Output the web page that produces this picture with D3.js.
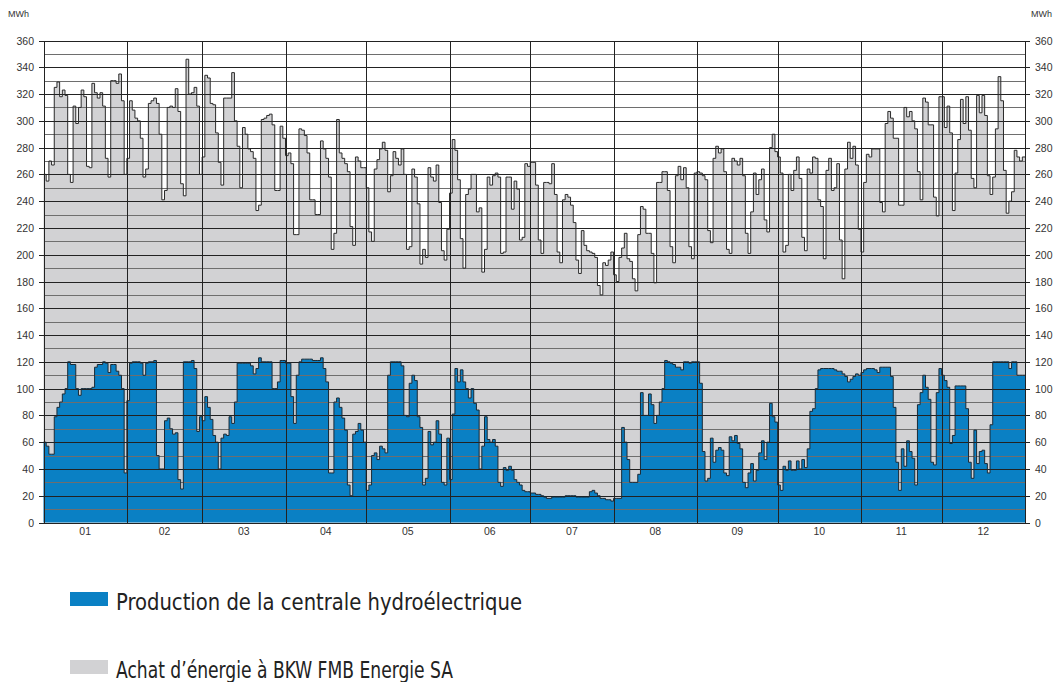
<!DOCTYPE html>
<html>
<meta charset="utf-8">
<head>
  <title>Production et achat d'énergie</title>
</head>

<style>
body {
  margin: 0;
  background: #fff;
}
text {
  font-family: "Liberation Sans", Arial, sans-serif;
  fill: #333;
}
.legend text {
  font-family: "Liberation Sans Narrow", "DejaVu Sans Condensed", "Liberation Sans", sans-serif;
  fill: #222;
}
</style>

<body>
  <svg id="chart" width="1058" height="682"></svg>

  <script src="https://cdnjs.cloudflare.com/ajax/libs/d3/7.8.5/d3.min.js"></script>

  <script>
var width = 1058, height = 682

// month labels and days per month
var months = ['01', '02', '03', '04', '05', '06', '07', '08', '09', '10', '11', '12']
var monthDays = [31, 28, 31, 30, 31, 30, 31, 31, 30, 31, 30, 31]

// total daily consumption (MWh) = production + achat
var total = [
  260, 255, 270, 267, 325, 329, 318, 323, 319, 260, 254, 311, 298, 310, 323, 318, 266, 265, 328, 321, 317, 321, 311, 272, 258, 330, 330, 328, 335, 315, 260,
  272, 315, 308, 302, 300, 287, 258, 264, 313, 315, 317, 313, 290, 241, 248, 310, 311, 310, 324, 307, 253, 244, 346, 320, 321, 325, 311, 260,
  273, 334, 332, 313, 312, 291, 269, 252, 317, 317, 317, 336, 300, 281, 250, 295, 290, 279, 277, 272, 233, 237, 301, 302, 304, 305, 297, 248, 248, 296, 287,
  274, 276, 268, 215, 215, 294, 293, 289, 276, 241, 241, 230, 230, 285, 279, 272, 258, 204, 216, 301, 276, 272, 268, 262, 221, 207, 273, 270, 265, 265,
  250, 217, 210, 264, 271, 279, 284, 278, 247, 259, 277, 272, 267, 279, 260, 204, 206, 264, 258, 238, 193, 204, 198, 265, 258, 255, 267, 239, 203, 196, 219,
  246, 286, 278, 256, 212, 190, 245, 249, 260, 260, 232, 235, 187, 204, 258, 252, 259, 261, 258, 201, 202, 258, 258, 234, 255, 249, 211, 213, 268, 266,
  269, 269, 252, 211, 201, 254, 254, 253, 268, 245, 202, 194, 241, 245, 243, 237, 224, 196, 186, 218, 207, 203, 202, 201, 198, 177, 170, 194, 192, 196, 202,
  185, 180, 198, 205, 216, 197, 195, 182, 173, 215, 236, 234, 216, 216, 201, 179, 254, 254, 262, 262, 248, 206, 194, 259, 266, 256, 265, 250, 206, 197, 261,
  262, 261, 259, 256, 218, 209, 272, 281, 276, 279, 262, 204, 201, 272, 270, 267, 272, 259, 216, 201, 232, 261, 245, 256, 264, 226, 217, 280, 290, 277,
  273, 261, 202, 207, 260, 248, 263, 273, 257, 213, 203, 264, 261, 273, 272, 241, 236, 197, 263, 272, 248, 250, 268, 211, 182, 264, 284, 272, 281, 267, 219,
  202, 254, 275, 273, 279, 279, 279, 239, 232, 298, 307, 302, 287, 287, 237, 237, 310, 303, 307, 300, 294, 262, 241, 317, 314, 297, 297, 243, 229, 318,
  318, 295, 311, 291, 233, 261, 286, 316, 298, 318, 293, 257, 250, 319, 306, 319, 304, 259, 245, 258, 294, 333, 315, 263, 231, 240, 247, 278, 273, 270, 273
]

// daily production of the hydro plant (MWh)
var production = [
  60, 57, 51, 51, 79, 86, 90, 96, 100, 120, 118, 118, 100, 95, 100, 100, 100, 100, 101, 116, 118, 118, 120, 119, 112, 118, 118, 113, 110, 100, 37,
  91, 119, 120, 120, 120, 119, 110, 119, 120, 120, 121, 50, 40, 40, 76, 78, 70, 66, 67, 32, 25, 120, 120, 120, 121, 115, 68, 79,
  76, 94, 86, 77, 65, 60, 40, 63, 66, 65, 79, 74, 90, 119, 119, 119, 119, 119, 117, 111, 115, 123, 120, 120, 120, 120, 100, 100, 105, 121, 121,
  119, 119, 94, 74, 110, 120, 122, 122, 122, 122, 121, 121, 121, 123, 115, 105, 37, 37, 90, 93, 86, 78, 69, 28, 20, 66, 68, 74, 69, 60,
  24, 28, 50, 52, 47, 57, 55, 52, 110, 120, 120, 120, 120, 117, 80, 79, 104, 110, 106, 79, 71, 28, 33, 68, 58, 60, 76, 66, 30, 28, 63,
  32, 81, 115, 105, 114, 105, 100, 93, 100, 89, 84, 40, 57, 79, 62, 60, 62, 57, 30, 27, 41, 39, 42, 39, 32, 30, 28, 24, 23, 23,
  22, 22, 21, 21, 20, 19, 18, 18, 19, 19, 19, 19, 19, 20, 20, 20, 20, 19, 19, 19, 19, 19, 23, 24, 22, 20, 18, 18, 17, 17, 16,
  18, 18, 18, 71, 60, 47, 30, 30, 30, 36, 97, 80, 80, 96, 88, 74, 80, 90, 100, 121, 120, 119, 118, 116, 116, 114, 120, 120, 119, 120, 120,
  120, 104, 53, 31, 33, 63, 45, 54, 56, 54, 37, 35, 64, 61, 65, 59, 55, 30, 26, 37, 44, 31, 39, 52, 61, 47, 60, 89, 79, 75,
  28, 24, 42, 39, 46, 39, 39, 46, 40, 47, 41, 55, 83, 85, 100, 114, 115, 115, 115, 115, 115, 114, 113, 113, 111, 109, 105, 107, 109, 111, 110,
  112, 114, 115, 115, 115, 114, 112, 116, 116, 116, 116, 109, 86, 45, 24, 55, 42, 61, 53, 48, 28, 88, 97, 110, 101, 92, 45, 43, 97, 115,
  110, 106, 101, 59, 65, 102, 102, 102, 102, 85, 45, 33, 69, 44, 53, 54, 44, 37, 73, 120, 120, 120, 120, 120, 120, 115, 120, 120, 110, 110, 110
]

var yTicks = d3.range(0, 361, 20)
var gridValues = d3.range(0, 361, 10)

var legendItems = [
  {label: 'Production de la centrale hydroélectrique', color: '#0a80c4', width: 406},
  {label: 'Achat d\u2019énergie à BKW FMB Energie SA', color: '#d2d2d4', width: 337}
]

var svg = d3.select('#chart')

var x = d3.scaleLinear().domain([0, 365]).range([43.5, 1025])
var y = d3.scaleLinear().domain([0, 360]).range([522.5, 40.5])

// step data, one extra point to close the last day
function steps(values) {
  var pts = values.map(function(v, i) { return [i, v] })
  pts.push([values.length, values[values.length - 1]])
  return pts
}

var area = d3.area()
  .curve(d3.curveStepAfter)
  .x(function(d) { return x(d[0]) })
  .y0(y(0))
  .y1(function(d) { return y(d[1]) })

var line = d3.line()
  .curve(d3.curveStepAfter)
  .x(function(d) { return x(d[0]) })
  .y(function(d) { return y(d[1]) })

svg.append('path')
  .attr('d', area(steps(total)))
  .attr('fill', '#d2d2d4')

svg.append('path')
  .attr('d', area(steps(production)))
  .attr('fill', '#0a80c4')

// horizontal grid
svg.append('g')
  .selectAll('line')
  .data(gridValues)
  .enter()
  .append('line')
  .attr('x1', function(d) { return d % 20 == 0 ? x(0) - 5 : x(0) })
  .attr('x2', function(d) { return d % 20 == 0 ? x(365) + 5 : x(365) })
  .attr('y1', function(d) { return Math.round(y(d)) + 0.5 })
  .attr('y2', function(d) { return Math.round(y(d)) + 0.5 })
  .attr('stroke', function(d) { return d % 20 == 0 ? '#222' : '#6e6e6e' })
  .attr('stroke-width', 1)
  .attr('shape-rendering', 'crispEdges')

// outlines of the two series
svg.append('path')
  .attr('d', line(steps(total)))
  .attr('fill', 'none')
  .attr('stroke', '#2a2a2a')
  .attr('stroke-width', 1)

svg.append('path')
  .attr('d', line(steps(production)))
  .attr('fill', 'none')
  .attr('stroke', '#1a2a36')
  .attr('stroke-width', 1)

// month separators
var monthStart = [0]
monthDays.forEach(function(d, i) { monthStart.push(monthStart[i] + d) })

svg.append('g')
  .selectAll('line')
  .data(monthStart)
  .enter()
  .append('line')
  .attr('x1', function(d) { return Math.round(x(d)) + 0.5 })
  .attr('x2', function(d) { return Math.round(x(d)) + 0.5 })
  .attr('y1', y(360))
  .attr('y2', y(0))
  .attr('stroke', '#222')
  .attr('stroke-width', 1)
  .attr('shape-rendering', 'crispEdges')

// y tick labels, both sides
svg.append('g')
  .selectAll('text')
  .data(yTicks)
  .enter()
  .append('text')
  .attr('x', 34)
  .attr('y', function(d) { return y(d) + 4 })
  .attr('text-anchor', 'end')
  .style('font-size', '10.5px')
  .text(function(d) { return d })

svg.append('g')
  .selectAll('text')
  .data(yTicks)
  .enter()
  .append('text')
  .attr('x', 1035)
  .attr('y', function(d) { return y(d) + 4 })
  .attr('text-anchor', 'start')
  .style('font-size', '10.5px')
  .text(function(d) { return d })

svg.append('text').attr('x', 8).attr('y', 17).style('font-size', '9px').text('MWh')
svg.append('text').attr('x', 1031).attr('y', 17).style('font-size', '9px').text('MWh')

// month labels
svg.append('g')
  .selectAll('text')
  .data(months)
  .enter()
  .append('text')
  .attr('x', function(d, i) { return (x(monthStart[i]) + x(monthStart[i + 1])) / 2 })
  .attr('y', 535)
  .attr('text-anchor', 'middle')
  .style('font-size', '10.5px')
  .text(function(d) { return d })

// legend
var legend = svg.append('g').attr('class', 'legend')
  .selectAll('g')
  .data(legendItems)
  .enter()
  .append('g')
  .attr('transform', function(d, i) { return 'translate(70,' + (592 + i * 68) + ')' })

legend.append('rect')
  .attr('width', 38)
  .attr('height', 14)
  .attr('fill', function(d) { return d.color })

legend.append('text')
  .attr('x', 46)
  .attr('y', 18)
  .attr('textLength', function(d) { return d.width })
  .attr('lengthAdjust', 'spacingAndGlyphs')
  .style('font-size', '23px')
  .text(function(d) { return d.label })
  </script>
</body>
</html>
